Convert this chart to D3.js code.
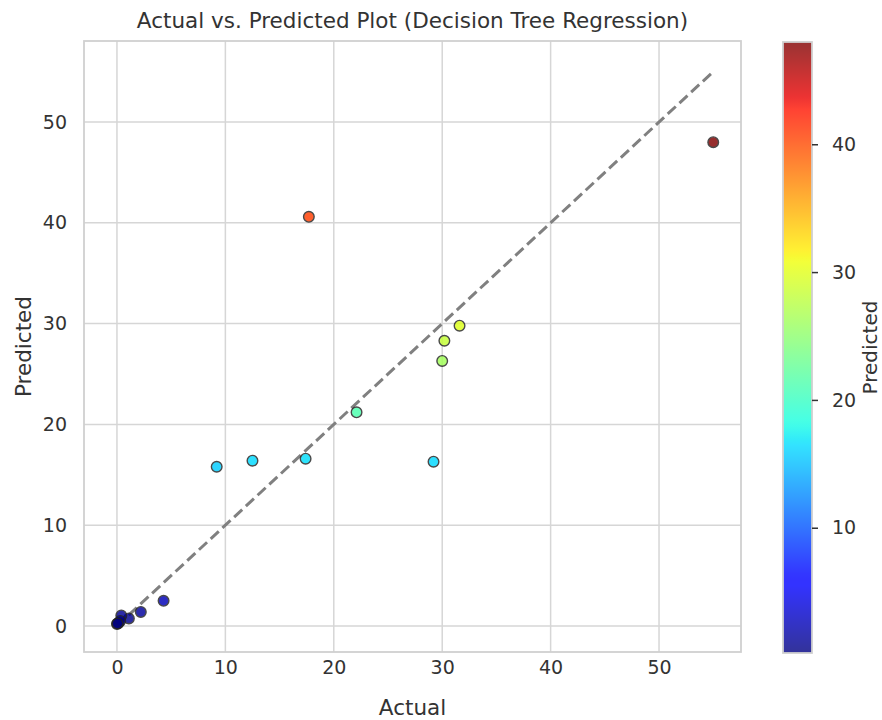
<!DOCTYPE html>
<html>
<head>
<meta charset="utf-8">
<script src="https://cdn.jsdelivr.net/npm/d3@7"></script>
<style>
  html, body { margin: 0; padding: 0; background: #fff; }
  svg { display: block; font-family: "DejaVu Sans", sans-serif; }
</style>
</head>
<body>
<svg id="chart" width="882" height="720"></svg>
<script>
// Actual vs. predicted values from the decision tree model
const actual    = [55.0, 17.7, 22.1, 31.6, 30.2, 30.0, 29.2, 17.4, 12.5, 9.2, 4.3, 2.2, 1.1, 0.4, 0.15, 0.0, 0.3, 0.05];
const predicted = [48.0, 40.6, 21.2, 29.8, 28.3, 26.3, 16.3, 16.6, 16.4, 15.8, 2.5, 1.4, 0.75, 1.05, 0.3, 0.2, 0.5, 0.25];

const xTicks = [0, 10, 20, 30, 40, 50];
const yTicks = [0, 10, 20, 30, 40, 50];
const cbarTicks = [10, 20, 30, 40];

const titleText = "Actual vs. Predicted Plot (Decision Tree Regression)";
const xLabel = "Actual";
const yLabel = "Predicted";
const cbarLabel = "Predicted";

const svg = d3.select("#chart");

const plot = { left: 84, right: 741, top: 41, bottom: 652 };
const cbar = { left: 783, right: 812, top: 42, bottom: 653 };

const tickFont = 19;
const labelFont = 21.5;

const x = d3.scaleLinear().domain([-3.04, 57.56]).range([plot.left, plot.right]);
const y = d3.scaleLinear().domain([-2.58, 58.04]).range([plot.bottom, plot.top]);

// matplotlib "jet" colormap, piecewise linear
function interp(pts, t) {
  for (let i = 1; i < pts.length; i++) {
    if (t <= pts[i][0]) {
      const [t0, v0] = pts[i - 1], [t1, v1] = pts[i];
      return v0 + (v1 - v0) * (t - t0) / (t1 - t0);
    }
  }
  return pts[pts.length - 1][1];
}
const jetR = [[0, 0], [0.35, 0], [0.66, 1], [0.89, 1], [1, 0.5]];
const jetG = [[0, 0], [0.125, 0], [0.375, 1], [0.64, 1], [0.91, 0], [1, 0]];
const jetB = [[0, 0.5], [0.11, 1], [0.34, 1], [0.65, 0], [1, 0]];
function jet(t) {
  t = Math.max(0, Math.min(1, t));
  return d3.rgb(interp(jetR, t) * 255, interp(jetG, t) * 255, interp(jetB, t) * 255).toString();
}

const pMin = d3.min(predicted), pMax = d3.max(predicted);
const norm = d3.scaleLinear().domain([pMin, pMax]).range([0, 1]);
const color = v => jet(norm(v));

// plot frame background
svg.append("rect")
  .attr("x", plot.left).attr("y", plot.top)
  .attr("width", plot.right - plot.left).attr("height", plot.bottom - plot.top)
  .attr("fill", "#fff");

// grid lines
const grid = svg.append("g").attr("stroke", "#d6d6d6").attr("stroke-width", 1.5);
grid.selectAll(".gx").data(xTicks).join("line")
  .attr("x1", d => x(d)).attr("x2", d => x(d))
  .attr("y1", plot.top).attr("y2", plot.bottom);
grid.selectAll(".gy").data(yTicks).join("line")
  .attr("x1", plot.left).attr("x2", plot.right)
  .attr("y1", d => y(d)).attr("y2", d => y(d));

// axes (labels only, no tick marks)
const xAxis = d3.axisBottom(x).tickValues(xTicks).tickSize(0).tickPadding(9).tickFormat(d3.format("d"));
const yAxis = d3.axisLeft(y).tickValues(yTicks).tickSize(0).tickPadding(17).tickFormat(d3.format("d"));

const gx = svg.append("g").attr("transform", `translate(0,${plot.bottom})`).call(xAxis);
const gy = svg.append("g").attr("transform", `translate(${plot.left},0)`).call(yAxis);
[gx, gy].forEach(g => {
  g.select(".domain").remove();
  g.selectAll("text").attr("font-size", tickFont).attr("fill", "#333").attr("font-family", "DejaVu Sans, sans-serif");
});

// identity reference line
const lo = d3.min(actual), hi = d3.max(actual);
svg.append("line")
  .attr("x1", x(lo)).attr("y1", y(lo))
  .attr("x2", x(hi)).attr("y2", y(hi))
  .attr("stroke", "#808080").attr("stroke-width", 3)
  .attr("stroke-dasharray", "11,5");

// scatter points
const pts = actual.map((a, i) => ({ a, p: predicted[i] }));
svg.append("g").selectAll("circle").data(pts).join("circle")
  .attr("cx", d => x(d.a)).attr("cy", d => y(d.p))
  .attr("r", 5.3)
  .attr("fill", d => color(d.p))
  .attr("stroke", "#222")
  .attr("stroke-width", 1.4)
  .attr("opacity", 0.82);

// plot border
svg.append("rect")
  .attr("x", plot.left).attr("y", plot.top)
  .attr("width", plot.right - plot.left).attr("height", plot.bottom - plot.top)
  .attr("fill", "none").attr("stroke", "#d0d0d0").attr("stroke-width", 1.8);

// title and axis labels
svg.append("text")
  .attr("x", (plot.left + plot.right) / 2).attr("y", 28)
  .attr("text-anchor", "middle").attr("font-size", labelFont).attr("fill", "#333")
  .text(titleText);
svg.append("text")
  .attr("x", (plot.left + plot.right) / 2).attr("y", 715)
  .attr("text-anchor", "middle").attr("font-size", labelFont).attr("fill", "#333")
  .text(xLabel);
svg.append("text")
  .attr("transform", `translate(31,${(plot.top + plot.bottom) / 2}) rotate(-90)`)
  .attr("text-anchor", "middle").attr("font-size", labelFont).attr("fill", "#333")
  .text(yLabel);

// colorbar
const cy = d3.scaleLinear().domain([pMin, pMax]).range([cbar.bottom, cbar.top]);
const defs = svg.append("defs");
const grad = defs.append("linearGradient").attr("id", "jetGrad")
  .attr("x1", 0).attr("y1", 1).attr("x2", 0).attr("y2", 0);
grad.selectAll("stop").data(d3.range(0, 1.0001, 0.01)).join("stop")
  .attr("offset", d => d)
  .attr("stop-color", d => jet(d));
svg.append("rect")
  .attr("x", cbar.left).attr("y", cbar.top)
  .attr("width", cbar.right - cbar.left).attr("height", cbar.bottom - cbar.top)
  .attr("fill", "url(#jetGrad)").attr("opacity", 0.8);
svg.append("rect")
  .attr("x", cbar.left).attr("y", cbar.top)
  .attr("width", cbar.right - cbar.left).attr("height", cbar.bottom - cbar.top)
  .attr("fill", "none").attr("stroke", "#d0d0d0").attr("stroke-width", 1.8);

const cAxis = d3.axisRight(cy).tickValues(cbarTicks).tickSize(6).tickPadding(14).tickFormat(d3.format("d"));
const gc = svg.append("g").attr("transform", `translate(${cbar.right},0)`).call(cAxis);
gc.select(".domain").remove();
gc.selectAll("line").attr("stroke", "#333").attr("stroke-width", 1.5);
gc.selectAll("text").attr("font-size", tickFont).attr("fill", "#333").attr("font-family", "DejaVu Sans, sans-serif");

svg.append("text")
  .attr("transform", `translate(877,${(cbar.top + cbar.bottom) / 2}) rotate(-90)`)
  .attr("text-anchor", "middle").attr("font-size", 20).attr("fill", "#333")
  .text(cbarLabel);
</script>
</body>
</html>
